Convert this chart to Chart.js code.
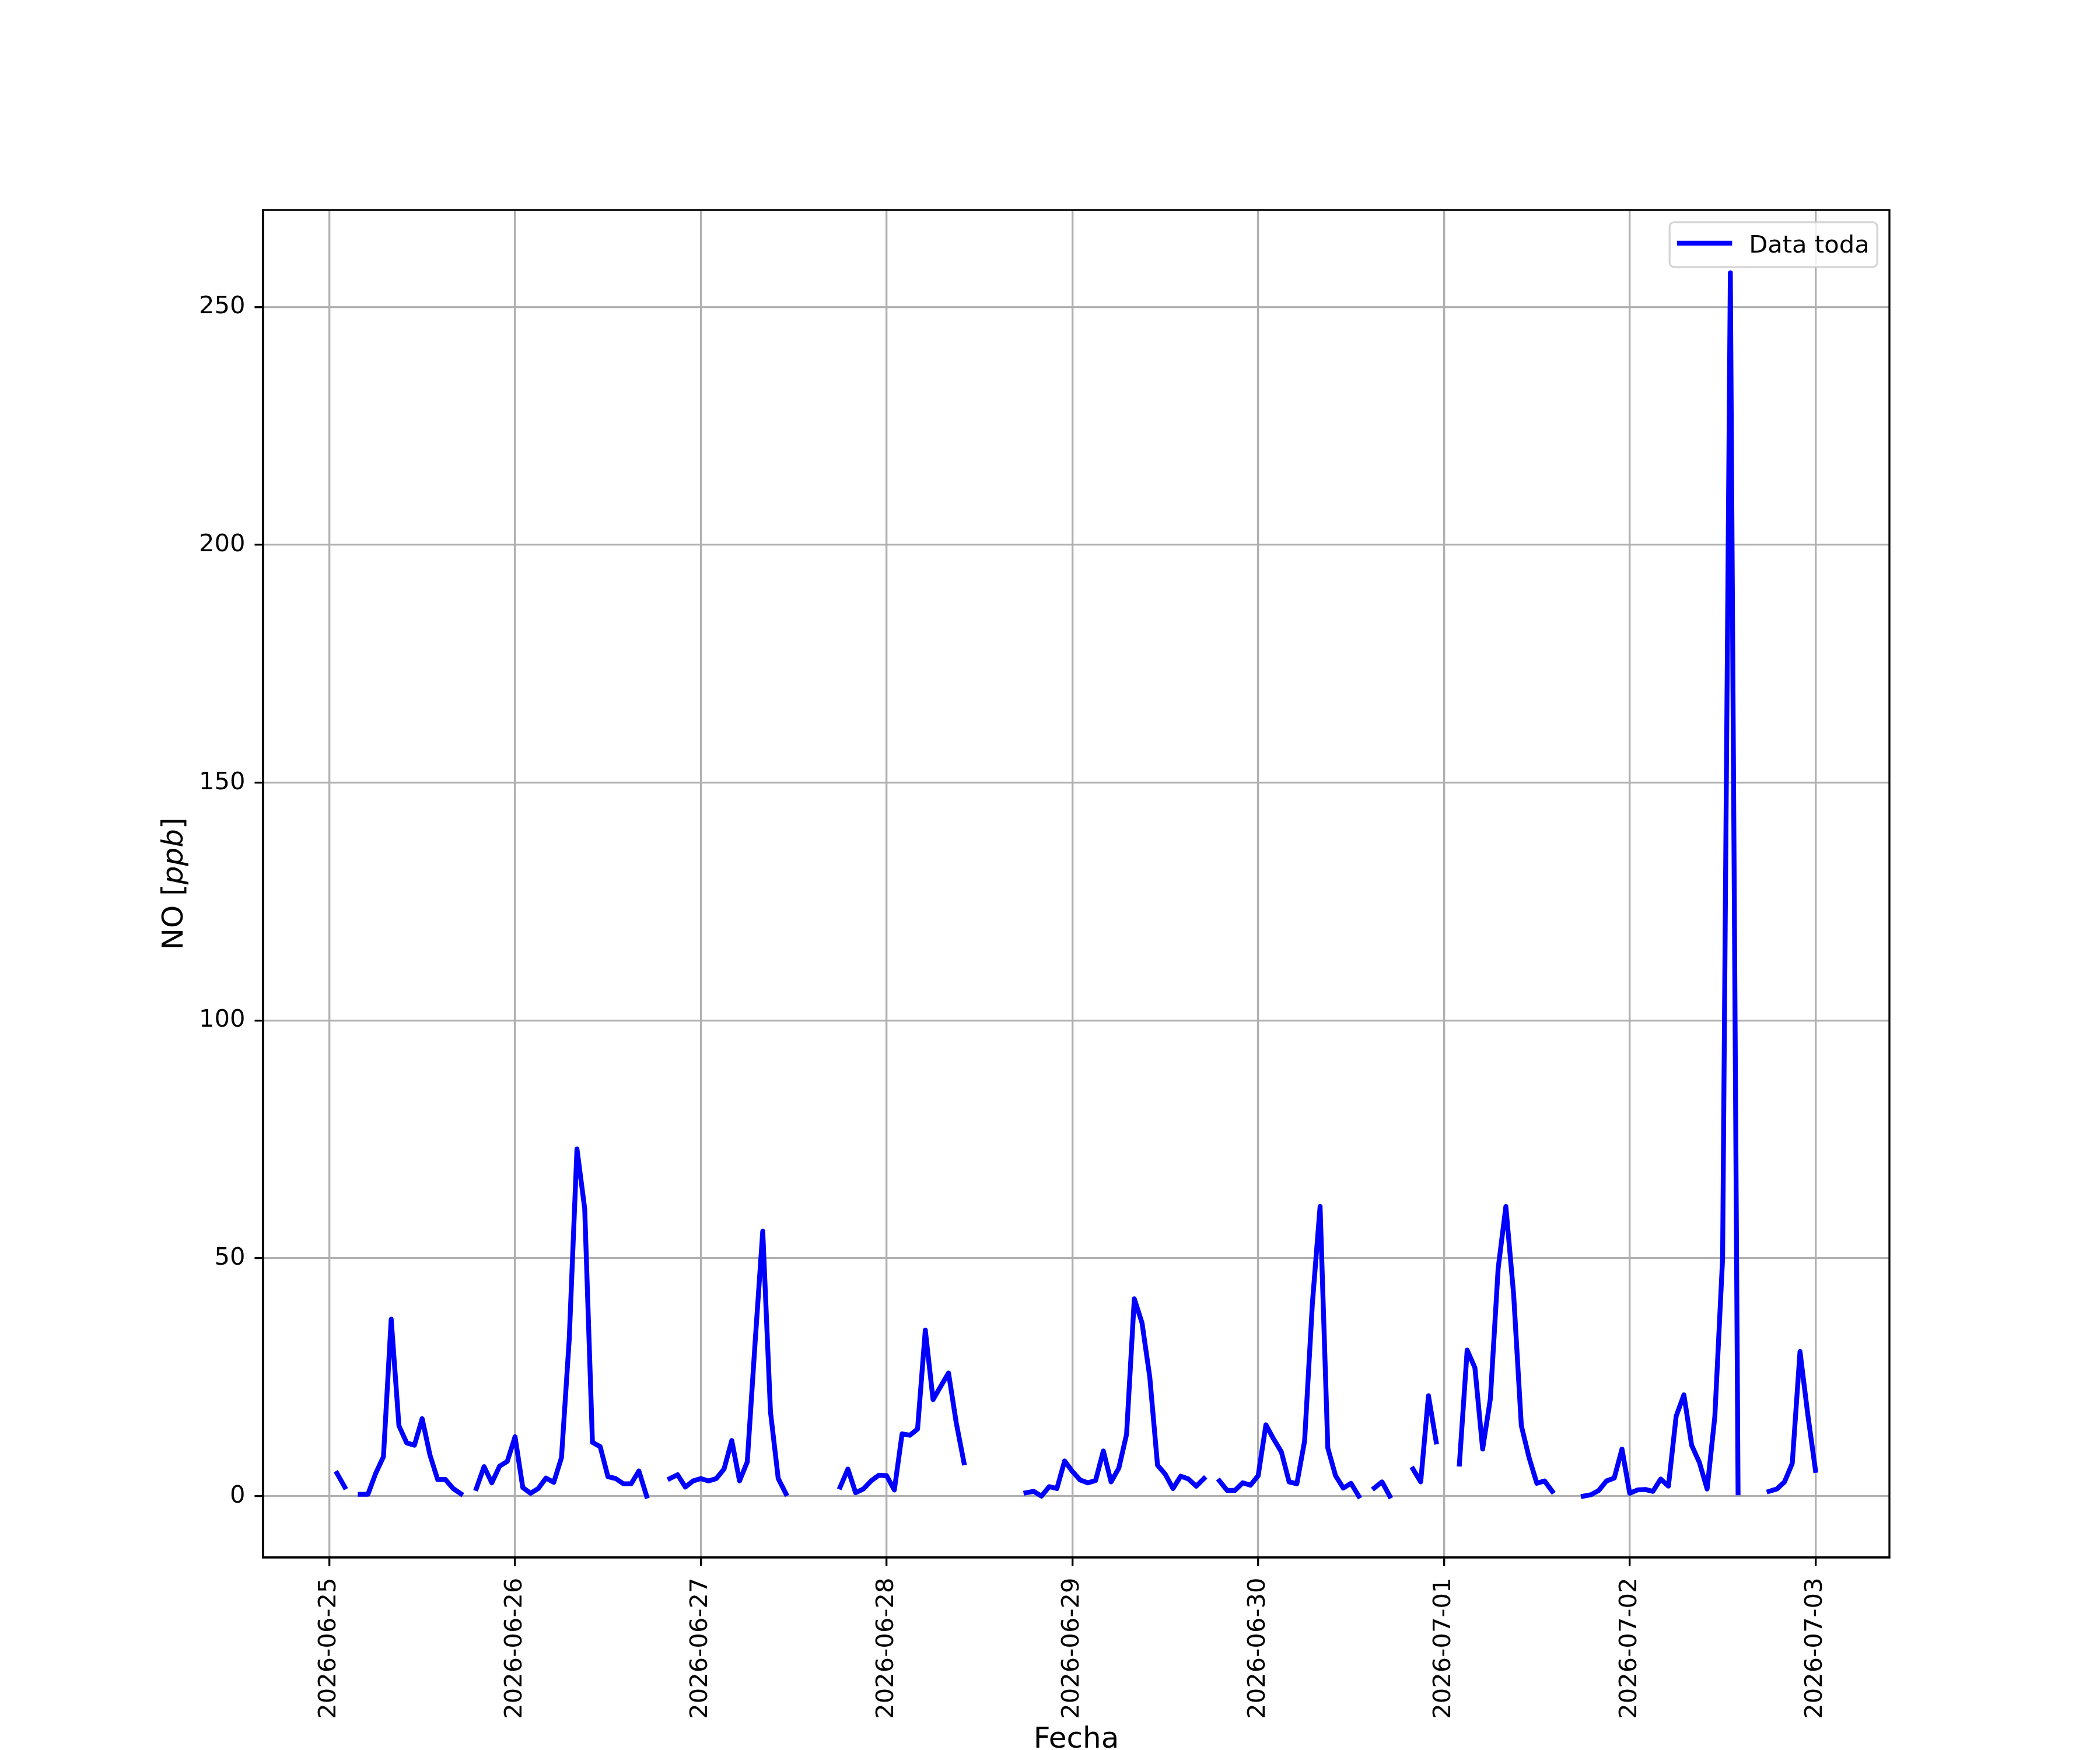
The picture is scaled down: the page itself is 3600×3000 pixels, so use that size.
<!DOCTYPE html>
<html>
<head>
<meta charset="utf-8">
<script src="https://cdn.jsdelivr.net/npm/chart.js@4.4.1/dist/chart.umd.min.js"></script>
<style>
  html, body { margin: 0; padding: 0; background: #fff; }
  canvas { display: block; }
</style>
</head>
<body>
<canvas id="chart" width="3600" height="3000"></canvas>
<script>
const dateLabels = ["2026-06-25", "2026-06-26", "2026-06-27", "2026-06-28", "2026-06-29",
  "2026-06-30", "2026-07-01", "2026-07-02", "2026-07-03"];
const yTicks = [0, 50, 100, 150, 200, 250];
const seriesLabel = "Data toda";

// hourly NO [ppb], one array per day, hour 0..23 (null = no data)
const jun25 = [null, 4.8, 1.9, null, 0.4, 0.4, 4.8, 8.3, 37.2, 14.8, 11.2, 10.7,
  16.3, 8.7, 3.5, 3.5, 1.6, 0.5, null, 1.6, 6.2, 2.8, 6.3, 7.3];
const jun26 = [12.5, 1.8, 0.6, 1.6, 3.8, 2.9, 8.1, 33.0, 73.0, 60.4, 11.3, 10.4,
  4.1, 3.7, 2.6, 2.6, 5.3, 0.0, null, null, 3.7, 4.5, 1.9, 3.2];
const jun27 = [3.7, 3.2, 3.7, 5.7, 11.7, 3.2, 7.2, 32.0, 55.7, 17.7, 3.7, 0.5,
  null, null, null, null, null, null, 1.9, 5.7, 0.7, 1.5, 3.2, 4.4];
const jun28 = [4.3, 1.3, 13.1, 12.8, 14.1, 34.9, 20.3, 23.1, 25.9, 15.4, 7.0, null,
  null, null, null, null, null, null, 0.7, 1.0, 0.0, 2.0, 1.6, 7.4];
const jun29 = [5.2, 3.4, 2.8, 3.3, 9.5, 3.0, 5.9, 13.0, 41.5, 36.4, 25.0, 6.5,
  4.6, 1.6, 4.2, 3.6, 2.1, 3.7, null, 3.2, 1.2, 1.2, 2.8, 2.3];
const jun30 = [4.3, 15.0, 12.0, 9.3, 3.0, 2.6, 11.6, 40.4, 60.9, 10.1, 4.3, 1.7,
  2.7, 0.0, null, 1.7, 3.0, 0.0, null, null, 5.7, 3.0, 21.1, 11.4];
const jul01 = [null, null, 6.75, 30.7, 27.0, 9.9, 20.5, 47.8, 60.9, 42.5, 14.8, 8.1,
  2.7, 3.2, 1.0, null, null, null, 0.0, 0.3, 1.2, 3.2, 3.8, 9.9];
const jul02 = [0.6, 1.3, 1.4, 1.0, 3.6, 2.1, 16.8, 21.3, 10.7, 7.1, 1.5, 16.8,
  50.0, 257.2, 0.7, null, null, null, 1.0, 1.5, 3.0, 6.9, 30.4, 17.2];
const jul03 = [5.4];

const days = [jun25, jun26, jun27, jun28, jun29, jun30, jul01, jul02, jul03];
// x = hours since 2026-06-25 00:00
const points = days.flatMap((vals, d) => vals.map((v, h) => ({ x: d * 24 + h, y: v })));

const PT = 300 / 72; // matplotlib at 300 dpi
const FONT = "DejaVu Sans";

const extras = {
  id: "extras",
  afterDatasetsDraw(chart) {
    const { ctx, chartArea: a } = chart;
    ctx.save();
    ctx.strokeStyle = "#000";
    ctx.lineWidth = 0.8 * PT;
    ctx.strokeRect(a.left, a.top, a.right - a.left, a.bottom - a.top);
    ctx.restore();
  },
  afterDraw(chart) {
    const { ctx, chartArea: a } = chart;
    ctx.save();

    // legend, upper right
    const pad = 0.5 * 10 * PT;
    const bw = 356, bh = 77;
    const bx = a.right - pad - bw, by = a.top + pad;
    ctx.beginPath();
    ctx.roundRect(bx, by, bw, bh, 8);
    ctx.fillStyle = "rgba(255,255,255,0.8)";
    ctx.fill();
    ctx.strokeStyle = "rgba(204,204,204,0.8)";
    ctx.lineWidth = 0.8 * PT;
    ctx.stroke();
    ctx.beginPath();
    ctx.moveTo(bx + 17, by + 36);
    ctx.lineTo(bx + 103, by + 36);
    ctx.strokeStyle = "#0000ff";
    ctx.lineWidth = 2 * PT;
    ctx.lineCap = "square";
    ctx.stroke();
    ctx.fillStyle = "#000";
    ctx.font = `${10 * PT}px "${FONT}"`;
    ctx.textBaseline = "alphabetic";
    ctx.textAlign = "left";
    ctx.fillText(seriesLabel, bx + 136, by + 52);

    // x axis title
    ctx.font = `${12 * PT}px "${FONT}"`;
    ctx.textAlign = "center";
    ctx.fillText("Fecha", (a.left + a.right) / 2, 2996);

    // y axis title: NO [ppb] with ppb in italics
    const parts = [["NO [", ""], ["ppb", "italic "], ["]", ""]];
    let total = 0;
    for (const [t, s] of parts) {
      ctx.font = `${s}${12 * PT}px "${FONT}"`;
      total += ctx.measureText(t).width;
    }
    ctx.translate(313, (a.top + a.bottom) / 2);
    ctx.rotate(-Math.PI / 2);
    ctx.textAlign = "left";
    let x = -total / 2;
    for (const [t, s] of parts) {
      ctx.font = `${s}${12 * PT}px "${FONT}"`;
      ctx.fillText(t, x, 0);
      x += ctx.measureText(t).width;
    }
    ctx.restore();
  }
};

new Chart(document.getElementById("chart"), {
  type: "line",
  data: {
    datasets: [{
      label: seriesLabel,
      data: points,
      borderColor: "#0000ff",
      backgroundColor: "#0000ff",
      borderWidth: 2 * PT,
      borderCapStyle: "square",
      borderJoinStyle: "round",
      pointRadius: 0,
      tension: 0,
      spanGaps: false
    }]
  },
  options: {
    responsive: false,
    animation: false,
    devicePixelRatio: 1,
    layout: { padding: { top: 360, right: 361, left: 0, bottom: 0 } },
    font: { family: FONT },
    plugins: { legend: { display: false }, tooltip: { enabled: false } },
    scales: {
      x: {
        type: "linear",
        min: -8.55,
        max: 201.55,
        afterFit: (s) => { s.height = 330; },
        afterBuildTicks: (s) => { s.ticks = dateLabels.map((_, i) => ({ value: i * 24 })); },
        ticks: {
          autoSkip: false,
          minRotation: 90,
          maxRotation: 90,
          padding: 20,
          color: "#000",
          font: { family: FONT, size: 10 * PT },
          callback: (v, i) => dateLabels[i]
        },
        grid: {
          color: "#b0b0b0",
          lineWidth: 0.8 * PT,
          tickLength: 3.5 * PT,
          tickColor: "#000",
          tickWidth: 0.8 * PT
        },
        border: { color: "#000", width: 0.8 * PT }
      },
      y: {
        type: "linear",
        min: -12.9,
        max: 270.4,
        afterFit: (s) => { s.width = 451; },
        afterBuildTicks: (s) => { s.ticks = yTicks.map((v) => ({ value: v })); },
        ticks: {
          padding: 16,
          color: "#000",
          font: { family: FONT, size: 10 * PT }
        },
        grid: {
          color: "#b0b0b0",
          lineWidth: 0.8 * PT,
          tickLength: 3.5 * PT,
          tickColor: "#000",
          tickWidth: 0.8 * PT
        },
        border: { color: "#000", width: 0.8 * PT }
      }
    }
  },
  plugins: [extras]
});
</script>
</body>
</html>
